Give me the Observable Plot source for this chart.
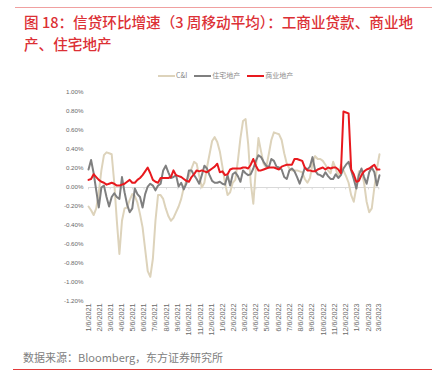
<!DOCTYPE html>
<html>
<head>
<meta charset="utf-8">
<script src="https://cdn.jsdelivr.net/npm/d3@7"></script>
<script src="https://cdn.jsdelivr.net/npm/@observablehq/plot@0.6"></script>
<style>
  body { margin: 0; background: #fff; }
  #wrap { position: relative; width: 445px; height: 387px; background: #fff; overflow: hidden; font-family: "Noto Sans CJK SC", "Noto Sans", sans-serif; }
  #topline { position: absolute; left: 15px; top: 7px; width: 417px; height: 0; border-top: 1.5px solid #f0a0a0; }
  #title { position: absolute; left: 24px; top: 11px; font-size: 14.6px; line-height: 21.5px; color: #dc3035; font-weight: 500; white-space: nowrap; }
  #chart { position: absolute; left: 0; top: 60px; }
  #legend { position: absolute; left: 158px; top: 70px; display: flex; align-items: center; font-size: 7px; color: #8a8a8a; line-height: 11px; }
  .item { display: flex; align-items: center; margin-right: 7px; }
  .sw { width: 17px; height: 2px; margin-right: 1px; }
  #source { position: absolute; left: 23px; top: 348px; font-size: 11px; line-height: 18px; color: #808080; white-space: nowrap; }
  #bottomline { position: absolute; left: 13px; top: 369px; width: 419px; height: 0; border-top: 1.5px solid #e23a3a; }
</style>
</head>
<body>
<div id="wrap">
  <div id="topline"></div>
  <div id="title">图 18：信贷环比增速（3 周移动平均）：工商业贷款、商业地<br>产、住宅地产</div>
  <div id="chart"></div>
  <div id="legend"></div>
  <div id="source">数据来源：Bloomberg，东方证券研究所</div>
  <div id="bottomline"></div>
</div>
<script>
// ---- data (percent, weekly from start date) ----
const startDate = "2021-01-06";
const seriesNames = ["C&I", "住宅地产", "商业地产"];
const seriesColors = ["#ddd3bb", "#7f7f7f", "#e8191e"];

const cni = [
  -0.20,-0.24,-0.29,-0.22,-0.05,0.18,0.34,0.37,0.36,0.35,
  0.05,-0.35,-0.70,-0.35,-0.22,-0.21,-0.13,-0.07,-0.09,-0.16,
  -0.28,-0.42,-0.65,-0.88,-0.94,-0.75,-0.35,-0.08,-0.08,-0.12,
  -0.22,-0.30,-0.35,-0.32,-0.26,-0.20,-0.12,0.00,0.07,0.12,
  0.20,0.27,0.25,0.12,0.00,0.05,0.21,0.35,0.49,0.53,
  0.48,0.38,0.22,0.05,-0.08,-0.05,0.05,0.08,0.28,0.52,
  0.70,0.72,0.46,0.05,-0.17,0.20,0.52,0.38,0.25,0.21,
  0.35,0.50,0.58,0.57,0.56,0.50,0.36,0.25,0.20,0.18,
  0.18,0.18,0.17,0.16,0.09,0.05,0.10,0.25,0.33,0.30,
  0.30,0.28,0.24,0.18,0.15,0.27,0.20,0.11,0.24,0.18,
  0.12,0.05,-0.08,-0.15,0.00,0.17,0.18,0.05,-0.15,-0.26,
  -0.22,0.00,0.20,0.35
];
const residential = [
  0.19,0.29,0.15,-0.03,-0.21,0.00,0.02,-0.10,-0.20,-0.10,
  -0.06,-0.10,-0.12,0.11,-0.05,-0.18,-0.26,-0.22,-0.01,-0.07,
  -0.10,-0.21,-0.07,0.01,0.04,0.02,-0.03,0.02,0.04,0.18,
  0.23,0.16,0.10,0.11,0.13,0.01,0.05,-0.02,0.04,0.18,
  0.18,0.13,0.09,0.04,0.13,0.23,0.20,0.13,0.07,0.05,
  0.05,0.06,0.04,0.03,0.13,0.02,0.14,0.16,0.12,0.06,
  0.18,0.15,0.13,0.14,0.20,0.28,0.34,0.32,0.27,0.23,
  0.21,0.30,0.28,0.22,0.21,0.19,0.11,0.09,0.18,0.20,
  0.17,0.11,0.04,0.12,0.21,0.19,0.22,0.32,0.18,0.14,
  0.13,0.11,0.16,0.12,0.09,0.09,0.14,0.10,0.13,0.20,
  0.24,0.27,0.18,0.09,-0.01,0.13,0.20,0.11,0.04,0.16,
  0.21,0.16,0.02,0.13
];
const commercial = [
  0.08,0.09,0.14,0.11,0.08,0.06,0.05,0.03,0.04,0.05,
  0.04,0.02,0.02,0.03,0.04,0.06,0.08,0.05,0.05,0.08,
  0.10,0.13,0.17,0.21,0.15,0.08,0.06,0.05,0.10,0.10,
  0.10,0.10,0.11,0.18,0.13,0.12,0.11,0.09,0.07,0.06,
  0.11,0.14,0.18,0.17,0.18,0.17,0.16,0.18,0.20,0.22,
  0.25,0.16,0.17,0.13,0.14,0.19,0.20,0.20,0.20,0.20,
  0.21,0.21,0.20,0.24,0.30,0.23,0.18,0.18,0.19,0.20,
  0.21,0.21,0.21,0.20,0.19,0.22,0.23,0.24,0.24,0.24,
  0.30,0.30,0.29,0.28,0.21,0.18,0.18,0.17,0.17,0.19,
  0.20,0.21,0.19,0.21,0.20,0.21,0.21,0.19,0.15,0.80,
  0.79,0.78,0.19,0.14,0.06,0.07,0.13,0.17,0.19,0.20,
  0.22,0.24,0.19,0.19
];
const yTicks = [-1.2,-1.0,-0.8,-0.6,-0.4,-0.2,0,0.2,0.4,0.6,0.8,1.0];
const tickLabels = [
  "1/6/2021","2/6/2021","3/6/2021","4/6/2021","5/6/2021","6/6/2021",
  "7/6/2021","8/6/2021","9/6/2021","10/6/2021","11/6/2021","12/6/2021",
  "1/6/2022","2/6/2022","3/6/2022","4/6/2022","5/6/2022","6/6/2022",
  "7/6/2022","8/6/2022","9/6/2022","10/6/2022","11/6/2022","12/6/2022",
  "1/6/2023","2/6/2023","3/6/2023"
];

// ---- build table ----
const start = new Date(startDate + "T00:00:00Z");
const dates = cni.map((_, i) => d3.utcDay.offset(start, 7 * i));
const allSeries = [cni, residential, commercial];
const rows = [];
allSeries.forEach((arr, s) => arr.forEach((v, i) => rows.push({date: dates[i], value: v, series: seriesNames[s]})));
const parseTick = d3.utcParse("%m/%d/%Y");
const tickDates = tickLabels.map(parseTick);
const fmtTick = d3.utcFormat("%-m/%-d/%Y");

const chart = Plot.plot({
  width: 445,
  height: 285,
  marginLeft: 88,
  marginRight: 66,
  marginTop: 32,
  marginBottom: 44,
  style: {fontFamily: "'Liberation Sans', Arial, sans-serif", background: "transparent", overflow: "visible"},
  x: {type: "utc", domain: [dates[0], dates[dates.length - 1]]},
  y: {domain: [-1.2, 1.0]},
  color: {domain: seriesNames, range: seriesColors},
  marks: [
    Plot.ruleY([0], {stroke: "#d9d9d9", strokeWidth: 1}),
    Plot.ruleX(tickDates, {x: d => d, y1: 0, y2: -0.025, stroke: "#d9d9d9", strokeWidth: 1}),
    Plot.axisY({ticks: yTicks, tickFormat: d => d.toFixed(2) + "%", tickSize: 0, tickPadding: 5, fontSize: 6.2, color: "#6a6a6a", label: null}),
    Plot.axisX({ticks: tickDates, tickFormat: fmtTick, tickRotate: -90, tickSize: 0, tickPadding: 2, fontSize: 7.2, color: "#6a6a6a", label: null}),
    Plot.line(rows.filter(d => d.series === seriesNames[0]), {x: "date", y: "value", stroke: "series", strokeWidth: 2, curve: "linear"}),
    Plot.line(rows.filter(d => d.series === seriesNames[1]), {x: "date", y: "value", stroke: "series", strokeWidth: 2, curve: "linear"}),
    Plot.line(rows.filter(d => d.series === seriesNames[2]), {x: "date", y: "value", stroke: "series", strokeWidth: 2, curve: "linear"})
  ]
});
document.getElementById("chart").appendChild(chart);

// legend
const legend = document.getElementById("legend");
seriesNames.forEach((name, i) => {
  const item = document.createElement("div");
  item.className = "item";
  const sw = document.createElement("div");
  sw.className = "sw";
  sw.style.background = seriesColors[i];
  const t = document.createElement("span");
  t.textContent = name;
  item.appendChild(sw);
  item.appendChild(t);
  legend.appendChild(item);
});
</script>
</body>
</html>
